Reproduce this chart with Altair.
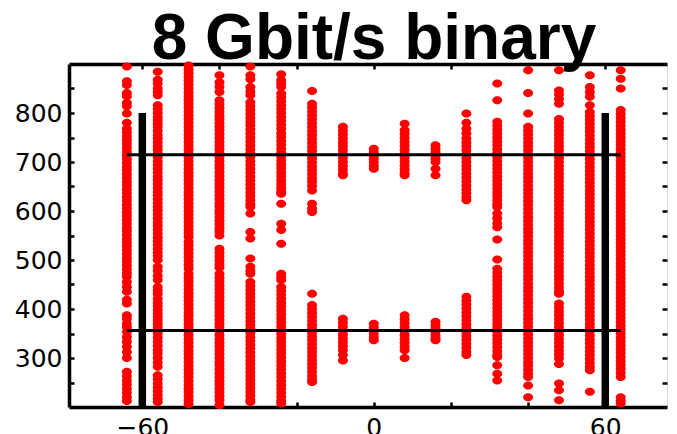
import altair as alt
import pandas as pd

# x positions of the sample stripes
x_pos = [-64, -56, -48, -40, -32, -24, -16, -8, 0, 8, 16, 24, 32, 40, 48, 56, 64]

y_m64 = [895, 865, 857, 841, 834, 821, 814, 799, 780, 768, 760, 752, 745, 737, 729, 721, 714, 706, 698, 690, 683, 675, 667, 659, 652, 644, 636, 628, 621, 613, 605, 597, 590, 582, 574, 566, 559, 551, 543, 535, 528, 520, 512, 504, 497, 489, 481, 473, 466, 455, 445, 435, 419, 411, 387, 380, 370, 363, 353, 343, 333, 323, 312, 300, 272, 263, 254, 246, 237, 229, 220, 212]
y_m56 = [884, 868, 860, 850, 843, 836, 816, 808, 800, 792, 785, 778, 772, 764, 755, 748, 740, 732, 725, 717, 709, 701, 694, 686, 678, 670, 663, 655, 647, 639, 632, 624, 616, 608, 601, 593, 585, 577, 570, 562, 554, 546, 539, 531, 523, 515, 508, 500, 486, 478, 468, 459, 445, 438, 431, 421, 413, 406, 398, 391, 384, 377, 370, 363, 350, 342, 333, 325, 316, 309, 300, 291, 282, 265, 257, 248, 240, 232, 224, 217, 210]
y_m48 = [897, 889, 881, 873, 866, 858, 850, 842, 834, 827, 819, 811, 803, 795, 788, 780, 772, 764, 756, 749, 741, 733, 725, 717, 710, 702, 694, 686, 678, 671, 663, 655, 647, 639, 632, 624, 616, 608, 600, 593, 585, 577, 569, 561, 554, 547, 537, 530, 522, 514, 506, 498, 490, 482, 472, 464, 456, 448, 440, 432, 425, 417, 409, 401, 393, 386, 378, 370, 362, 354, 347, 339, 331, 323, 315, 308, 300, 292, 284, 276, 269, 261, 253, 245, 237, 230, 222, 214, 206]
y_m40 = [877, 863, 853, 843, 826, 818, 810, 802, 794, 787, 779, 772, 765, 757, 749, 741, 733, 726, 718, 710, 702, 694, 687, 679, 671, 663, 655, 648, 640, 632, 624, 616, 609, 601, 595, 588, 580, 573, 565, 558, 550, 523, 515, 507, 499, 491, 484, 472, 464, 456, 448, 441, 433, 425, 417, 409, 402, 394, 386, 378, 370, 363, 355, 347, 339, 331, 324, 316, 308, 300, 292, 285, 277, 269, 261, 253, 246, 238, 230, 222, 214, 204]
y_m32 = [895, 877, 869, 853, 844, 836, 822, 814, 806, 798, 790, 782, 775, 767, 758, 750, 742, 734, 726, 718, 710, 702, 694, 686, 678, 670, 662, 654, 646, 638, 630, 622, 614, 608, 595, 557, 544, 503, 486, 478, 472, 455, 447, 439, 431, 423, 415, 407, 399, 391, 383, 375, 367, 359, 351, 343, 335, 327, 319, 311, 303, 295, 287, 279, 271, 263, 255, 247, 239, 231, 223, 215, 210]
y_m24 = [879, 867, 860, 853, 840, 832, 824, 816, 808, 800, 792, 784, 776, 768, 758, 751, 743, 735, 727, 719, 711, 703, 695, 687, 679, 671, 663, 655, 647, 640, 635, 615, 574, 561, 533, 472, 465, 459, 445, 437, 429, 421, 413, 405, 397, 389, 381, 373, 365, 357, 349, 341, 333, 325, 317, 309, 301, 293, 285, 277, 269, 261, 253, 245, 237, 229, 221, 213, 207]
y_m16 = [845, 819, 811, 803, 795, 787, 779, 771, 763, 755, 747, 739, 731, 723, 715, 707, 699, 691, 683, 675, 667, 659, 651, 642, 615, 605, 598, 431, 408, 400, 392, 384, 376, 368, 360, 352, 344, 336, 328, 320, 312, 304, 296, 288, 280, 272, 264, 256, 251]
y_m8 = [772, 764, 756, 748, 740, 732, 724, 716, 708, 700, 692, 684, 676, 673, 380, 372, 364, 356, 348, 340, 332, 324, 316, 306, 295]
y_0 = [727, 720, 713, 706, 699, 692, 686, 370, 363, 356, 349, 342, 336]
y_p8 = [778, 765, 757, 749, 741, 733, 725, 717, 709, 701, 693, 685, 677, 673, 387, 379, 371, 363, 355, 347, 339, 331, 323, 316, 300]
y_p16 = [734, 727, 720, 713, 706, 700, 686, 673, 374, 367, 360, 353, 346, 340, 336]
y_p24 = [799, 780, 768, 758, 748, 740, 732, 724, 716, 708, 700, 692, 684, 676, 668, 660, 652, 644, 636, 628, 622, 425, 417, 409, 401, 393, 385, 377, 369, 361, 353, 345, 337, 329, 321, 313, 306]
y_p32 = [860, 826, 782, 774, 766, 758, 750, 742, 734, 726, 718, 710, 702, 694, 686, 678, 670, 662, 654, 646, 638, 630, 622, 614, 608, 595, 585, 575, 567, 542, 501, 482, 474, 466, 458, 450, 442, 434, 426, 418, 410, 402, 394, 386, 378, 370, 362, 354, 346, 338, 330, 322, 314, 306, 302, 285, 268, 254]
y_p40 = [887, 841, 799, 772, 764, 756, 748, 740, 732, 724, 716, 708, 700, 692, 684, 676, 668, 660, 652, 644, 636, 628, 620, 612, 604, 596, 588, 580, 572, 564, 556, 548, 540, 532, 524, 516, 508, 500, 492, 484, 476, 468, 460, 452, 444, 436, 428, 420, 412, 404, 396, 388, 380, 372, 364, 356, 348, 340, 332, 324, 316, 308, 300, 292, 284, 276, 268, 261, 244, 220]
y_p48 = [887, 846, 838, 828, 819, 788, 780, 772, 764, 756, 748, 740, 732, 724, 716, 708, 700, 692, 684, 676, 668, 660, 652, 644, 636, 628, 620, 612, 604, 596, 588, 580, 572, 564, 556, 548, 540, 532, 524, 516, 508, 500, 492, 484, 476, 468, 460, 452, 444, 436, 431, 411, 403, 395, 387, 379, 371, 363, 355, 347, 339, 331, 323, 315, 307, 299, 288, 248, 234, 214]
y_p56 = [877, 853, 843, 833, 816, 802, 794, 786, 778, 770, 762, 754, 746, 738, 730, 722, 714, 706, 698, 690, 682, 674, 666, 658, 650, 642, 634, 626, 618, 610, 602, 594, 586, 578, 570, 562, 554, 546, 538, 530, 522, 514, 506, 498, 490, 482, 474, 466, 458, 450, 442, 434, 426, 418, 410, 402, 394, 386, 378, 370, 362, 354, 346, 338, 330, 322, 314, 306, 298, 290, 282, 275, 231]
y_p64 = [887, 870, 850, 806, 798, 790, 782, 774, 766, 758, 750, 742, 734, 726, 718, 710, 702, 694, 686, 678, 670, 662, 654, 646, 638, 630, 622, 614, 606, 598, 590, 582, 574, 566, 558, 550, 542, 534, 526, 518, 510, 502, 494, 486, 478, 470, 462, 454, 446, 438, 430, 422, 414, 406, 398, 390, 382, 374, 366, 358, 350, 342, 334, 326, 318, 310, 302, 294, 286, 278, 270, 261, 220, 213, 207]

stripes = [y_m64, y_m56, y_m48, y_m40, y_m32, y_m24, y_m16, y_m8, y_0,
           y_p8, y_p16, y_p24, y_p32, y_p40, y_p48, y_p56, y_p64]

# black vertical bars
bar_x = [-60, 60]
bar_low = [200, 200]
bar_high = [800, 800]

# horizontal threshold lines
hline_upper = [715]
hline_lower = [356]
hline_from = -64
hline_to = 64

x_ticks = [-60, -40, -20, 0, 20, 40, 60]
x_labels = [-60, 0, 60]
y_labels = [300, 400, 500, 600, 700, 800]
y_ticks = [250, 300, 350, 400, 450, 500, 550, 600, 650, 700, 750, 800, 850]

rows = [{"x": xv, "y": yv} for xv, ys in zip(x_pos, stripes) for yv in ys]
df_pts = pd.DataFrame(rows)
df_bars = pd.DataFrame({"x": bar_x, "y": bar_low, "y2": bar_high})
df_up = pd.DataFrame({"y": hline_upper, "x": [hline_from], "x2": [hline_to]})
df_lo = pd.DataFrame({"y": hline_lower, "x": [hline_from], "x2": [hline_to]})

xs = alt.Scale(domain=[-79, 76], nice=False, zero=False)
ys = alt.Scale(domain=[200, 900], nice=False, zero=False)

LF = "DejaVu Sans"
LS = 25

ax_bottom = alt.Axis(orient="bottom", values=x_labels, ticks=False, domain=True,
                     domainWidth=3.5, domainColor="black", labelFont=LF,
                     labelFontSize=LS, labelColor="black", labelPadding=8,
                     grid=False, title=None)
ay_left = alt.Axis(orient="left", values=y_labels, ticks=False, domain=True,
                   domainWidth=3.5, domainColor="black", labelFont=LF,
                   labelFontSize=LS, labelColor="black", labelPadding=7,
                   grid=False, title=None)

ax_bottom_ticks = alt.Axis(orient="bottom", values=x_ticks, ticks=True, tickSize=5,
                           tickWidth=2.5, tickColor="black", offset=-5, domain=False,
                           labels=False, grid=False, title=None)
ay_left_ticks = alt.Axis(orient="left", values=y_ticks, ticks=True, tickSize=5,
                         tickWidth=2.5, tickColor="black", offset=-5, domain=False,
                         labels=False, grid=False, title=None)

ax_top = alt.Axis(orient="top", ticks=False, domain=True, domainWidth=3.5,
                  domainColor="black", labels=False, grid=False, title=None)
ay_right_ticks = alt.Axis(orient="right", values=y_ticks, ticks=True, tickSize=5,
                          tickWidth=2.5, tickColor="black", offset=-5, domain=False,
                          labels=False, grid=False, title=None)
ax_top_ticks = alt.Axis(orient="top", values=x_ticks, ticks=True, tickSize=5,
                        tickWidth=2.5, tickColor="black", offset=-5, domain=False,
                        labels=False, grid=False, title=None)

ellipse = "M-1,0A1,0.8,0,1,1,1,0A1,0.8,0,1,1,-1,0Z"

points = alt.Chart(df_pts).mark_point(
    shape=ellipse, filled=True, color="#ff0000", size=100, opacity=1, strokeWidth=0
).encode(
    x=alt.X("x:Q", scale=xs, axis=ax_bottom),
    y=alt.Y("y:Q", scale=ys, axis=ay_left),
)

lo_line = alt.Chart(df_lo).mark_rule(color="black", strokeWidth=3).encode(
    x=alt.X("x:Q", scale=xs, axis=ax_bottom_ticks),
    x2="x2:Q",
    y=alt.Y("y:Q", scale=ys, axis=ay_left_ticks),
)

bars = alt.Chart(df_bars).mark_rule(color="black", strokeWidth=7.5).encode(
    x=alt.X("x:Q", scale=xs, axis=ax_top),
    y=alt.Y("y:Q", scale=ys, axis=ay_right_ticks),
    y2="y2:Q",
)

up_line = alt.Chart(df_up).mark_rule(color="black", strokeWidth=3).encode(
    x=alt.X("x:Q", scale=xs, axis=ax_top_ticks),
    x2="x2:Q",
    y=alt.Y("y:Q", scale=ys, axis=None),
)

chart = alt.layer(points, lo_line, bars, up_line).resolve_axis(
    x="independent", y="independent"
).properties(
    width=661,
    height=343,
    autosize=alt.AutoSizeParams(type="fit-x", contains="padding"),
    padding={"left": 6, "top": 0, "right": 0, "bottom": 0},
    title=alt.TitleParams(
        "8 Gbit/s binary", font="Liberation Sans", fontSize=64, fontWeight="bold",
        color="black", anchor="middle", baseline="alphabetic", offset=-62, dx=6
    ),
).configure_view(stroke=None).configure(background="white")

chart.save("out.html", embed_options={"renderer": "svg", "actions": False})
